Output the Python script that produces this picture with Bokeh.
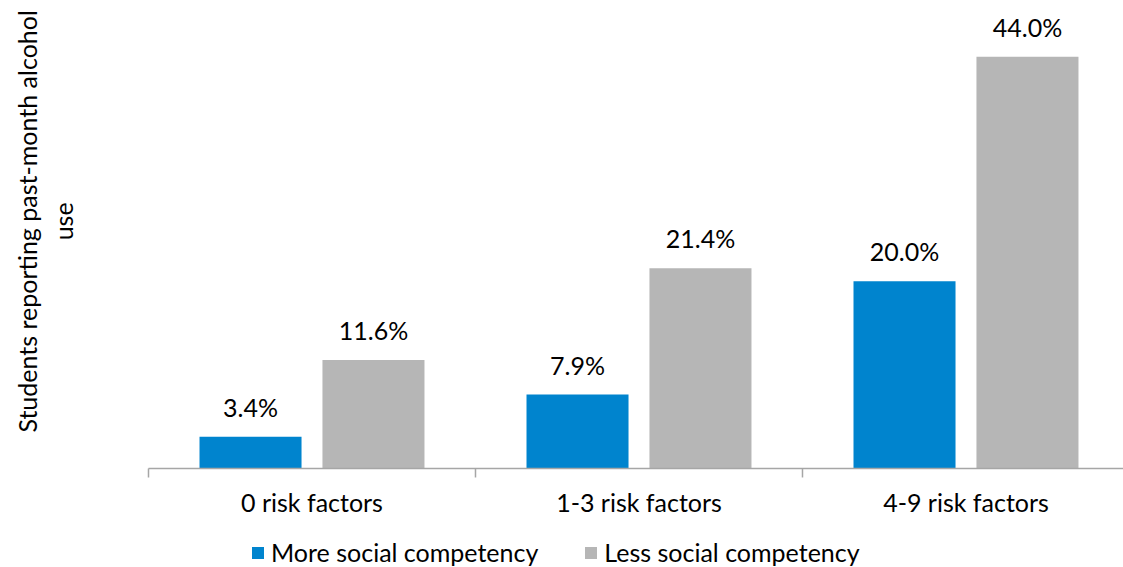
import math
from bokeh.plotting import figure
from bokeh.models import (ColumnDataSource, Range1d, LabelSet, Label,
                          Legend, LegendItem)
from bokeh.core.properties import value
from bokeh.transform import dodge
from bokeh.embed import file_html
from bokeh.resources import INLINE

# Data
categories = ["0 risk factors", "1-3 risk factors", "4-9 risk factors"]
more_social = [3.4, 7.9, 20.0]
less_social = [11.6, 21.4, 44.0]
series_names = ["More social competency", "Less social competency"]
y_title = "Students reporting past-month alcohol\nuse"

FONT = "Lato"
FSIZE = "25px"
BLUE = "#0084CE"
GRAY = "#B6B6B6"
AXIS = "#A6A6A6"

n = len(categories)
centers = [i + 0.5 for i in range(n)]
boundaries = list(range(n + 1))

src = ColumnDataSource(dict(
    xc=centers,
    cat=categories,
    zero=[0] * n,
    more=more_social,
    less=less_social,
    more_lbl=[f"{v:.1f}%" for v in more_social],
    less_lbl=[f"{v:.1f}%" for v in less_social],
))

# The plot area fills the canvas; category axis and titles are drawn inside it.
p = figure(width=1123, height=567, output_backend="svg", toolbar_location=None,
           x_range=Range1d(-0.4526, 2.9817), y_range=Range1d(-10.58, 50.0),
           min_border=0)
p.outline_line_color = None
p.grid.grid_line_color = None
p.xaxis.visible = False
p.yaxis.visible = False
p.background_fill_color = "white"

off = 0.188
bw = 0.312
r_more = p.vbar(x=dodge("xc", -off), top="more", width=bw, source=src,
                fill_color=BLUE, line_color=None)
r_less = p.vbar(x=dodge("xc", off), top="less", width=bw, source=src,
                fill_color=GRAY, line_color=None)

# value labels above bars
for col, lab, d in (("more", "more_lbl", -off), ("less", "less_lbl", off)):
    p.add_layout(LabelSet(x=dodge("xc", d), y=col, text=lab, source=src,
                          text_align="center", text_baseline="alphabetic",
                          y_offset=20, text_font=value(FONT),
                          text_font_size=value(FSIZE),
                          text_color="#000000"))

# category axis: base line, boundary ticks and category names
p.segment(x0=boundaries[0], y0=0, x1=boundaries[-1], y1=0,
          line_color=AXIS, line_width=1.5)
tick_len = 9 / 9.36
p.segment(x0=boundaries, y0=[0] * len(boundaries), x1=boundaries,
          y1=[-tick_len] * len(boundaries), line_color=AXIS, line_width=1.5)
p.add_layout(LabelSet(x="xc", y="zero", text="cat", source=src,
                      text_align="center", text_baseline="alphabetic",
                      y_offset=-44, text_font=value(FONT),
                      text_font_size=value(FSIZE), text_color="#000000"))

# vertical title
p.add_layout(Label(x=-0.315, y=26.4, text=y_title, angle=math.pi / 2,
                   text_align="center", text_baseline="middle",
                   text_font=FONT, text_font_size=FSIZE,
                   text_color="#000000"))

legend = Legend(items=[LegendItem(label=series_names[0], renderers=[r_more]),
                       LegendItem(label=series_names[1], renderers=[r_less])],
                orientation="horizontal", location=(250, 0),
                label_text_font=FONT, label_text_font_size=FSIZE,
                label_text_color="#000000", glyph_width=15, glyph_height=15,
                label_standoff=6, spacing=45, padding=0, margin=0,
                border_line_color=None, background_fill_alpha=0)
p.add_layout(legend, "center")

open("out.html", "w").write(file_html(p, INLINE))
